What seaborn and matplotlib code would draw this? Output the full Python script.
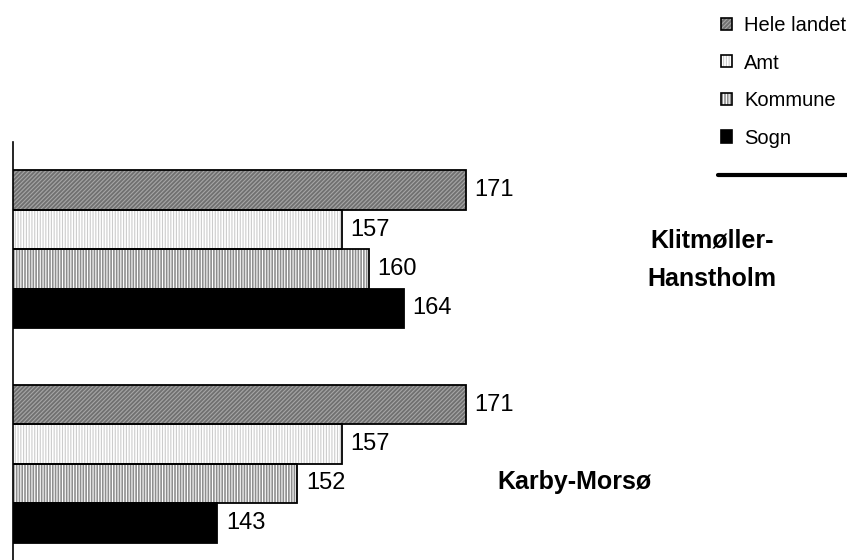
import pandas as pd
import matplotlib
matplotlib.use("Agg")
import matplotlib.pyplot as plt
from matplotlib.patches import Patch, Rectangle
from matplotlib.lines import Line2D
import seaborn as sns

sns.set_style("white")
plt.rcParams['font.family'] = ['Liberation Sans', 'DejaVu Sans']
plt.rcParams['text.color'] = 'black'
plt.rcParams['hatch.linewidth'] = 0.8

# data
regions = ["Klitmøller-Hanstholm", "Karby-Morsø"]
levels = ["Hele landet", "Amt", "Kommune", "Sogn"]
klitmoller = [171, 157, 160, 164]
karby = [171, 157, 152, 143]

# fill style per level: face colour, hatch, hatch colour
styles = {
    "Hele landet": ("#707070", "////////", "#a6a6a6"),
    "Amt": ("white", "||||||", "#cccccc"),
    "Kommune": ("#8e8e8e", "||||||", "white"),
    "Sogn": ("black", "", "black"),
}

rows = []
for region, values in zip(regions, [klitmoller, karby]):
    for level, v in zip(levels, values):
        rows.append({"region": region, "level": level, "value": v})
df = pd.DataFrame(rows)

fig = plt.figure(figsize=(8.47, 5.6), dpi=100)
ax = fig.add_axes([13 / 847, -11 / 560, 800 / 847, 429 / 560])

sns.barplot(data=df, x="value", y="region", hue="level", hue_order=levels,
            order=regions, orient="h", width=0.735, dodge=True,
            palette=["#888888"] * 4, linewidth=0, legend=False, ax=ax)

for container, level in zip(ax.containers, levels):
    face, hatch, hcolor = styles[level]
    for bar in container:
        bar.set_facecolor(face)
        bar.set_hatch(hatch)
        bar.set_edgecolor(hcolor)
        bar.set_linewidth(0)
        # black outline drawn on top
        ax.add_patch(Rectangle(bar.get_xy(), bar.get_width(), bar.get_height(),
                               fill=False, edgecolor="black", linewidth=1.3, zorder=3))
    ax.bar_label(container, padding=6, fontsize=17, color="black")

ax.set_xlim(120, 210)
ax.set_ylim(1.5, -0.5)
ax.set_xlabel("")
ax.set_ylabel("")
ax.set_xticks([])
ax.set_yticks([])
for side in ["top", "right", "bottom"]:
    ax.spines[side].set_visible(False)
ax.spines["left"].set_color("black")
ax.spines["left"].set_linewidth(1.2)

# region names inside the plot
ax.text(198.6, 0.05, "Klitmøller-\nHanstholm", ha="center", va="center",
        fontsize=18, fontweight="bold", linespacing=1.75, color="black")
ax.text(183.2, 1.085, "Karby-Morsø", ha="center", va="center",
        fontsize=18, fontweight="bold", color="black")

# legend: hatched fill plus black outline for each entry
handles = []
for level in levels:
    face, hatch, hcolor = styles[level]
    fill = Patch(facecolor=face, hatch=hatch, edgecolor=hcolor, linewidth=0)
    outline = Patch(fill=False, edgecolor="black", linewidth=1.2)
    handles.append((fill, outline))
fig.legend(handles=handles, labels=levels, loc="upper left",
           bbox_to_anchor=(721 / 847, 1 - 16 / 560), frameon=False,
           fontsize=14.5, handlelength=0.55, handleheight=0.55,
           handletextpad=0.6, labelspacing=0.92, borderpad=0, borderaxespad=0)
fig.add_artist(Line2D([718 / 847, 1.0], [1 - 175 / 560] * 2, color="black",
                      linewidth=3, transform=fig.transFigure))

fig.savefig("out.png", dpi=100)
